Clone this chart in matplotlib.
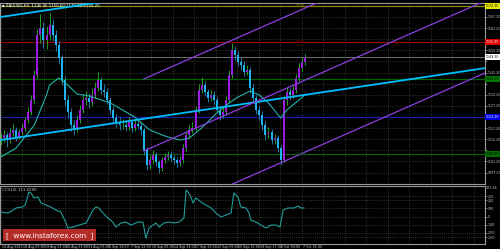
import numpy as np
import matplotlib.pyplot as plt

# H4 candles (price)
closes = [1112.75, 1114.10, 1111.85, 1115.00, 1116.35, 1113.20, 1115.45, 1117.25, 1120.85, 1124.45,
          1129.85, 1141.10, 1159.10, 1162.25, 1156.85, 1159.10, 1163.60, 1159.10, 1154.60, 1148.75,
          1138.85, 1129.85, 1124.45, 1118.60, 1117.25, 1120.85, 1125.35, 1129.85, 1130.75, 1128.95,
          1132.10, 1135.25, 1138.85, 1134.35, 1133.45, 1129.85, 1125.35, 1121.75, 1119.95, 1118.60,
          1118.60, 1117.70, 1119.95, 1117.25, 1119.05, 1118.15, 1116.35, 1107.35, 1100.60, 1102.85,
          1105.10, 1101.95, 1099.25, 1102.85, 1104.20, 1105.10, 1103.75, 1102.85, 1101.50, 1102.85,
          1108.25, 1114.10, 1116.35, 1117.25, 1125.35, 1134.35, 1136.60, 1133.45, 1130.75, 1132.10,
          1129.85, 1125.35, 1123.10, 1124.45, 1129.85, 1141.10, 1152.35, 1150.10, 1146.95, 1145.60,
          1142.45, 1143.35, 1135.25, 1130.75, 1125.35, 1123.10, 1118.60, 1114.10, 1115.45, 1111.85,
          1112.75, 1108.25, 1102.85, 1129.85, 1133.45, 1132.10, 1134.35, 1139.75, 1144.25, 1146.95,
          1149.20]
highs = [1115.0, 1116.2, 1115.3, 1117.4, 1118.9, 1117.5, 1117.0, 1119.6, 1122.4, 1126.8,
         1131.9, 1143.5, 1162.0, 1168.4, 1164.9, 1163.0, 1168.8, 1166.4, 1161.2, 1156.3,
         1150.1, 1140.5, 1132.0, 1126.1, 1121.0, 1123.3, 1127.4, 1132.6, 1134.0, 1132.8,
         1135.2, 1138.1, 1142.6, 1140.2, 1137.0, 1135.4, 1131.2, 1127.0, 1123.6, 1122.1,
         1121.2, 1120.4, 1122.3, 1121.0, 1121.1, 1120.9, 1119.7, 1117.4, 1108.6, 1105.1,
         1107.4, 1106.3, 1103.0, 1104.4, 1106.2, 1107.0, 1106.8, 1105.2, 1104.1, 1104.6,
         1110.1, 1116.0, 1118.5, 1120.0, 1127.3, 1137.1, 1140.0, 1138.2, 1135.0, 1134.3,
         1133.8, 1131.0, 1127.2, 1126.5, 1131.8, 1143.4, 1155.6, 1154.3, 1151.8, 1149.1,
         1147.2, 1145.5, 1144.6, 1136.9, 1132.1, 1127.3, 1124.7, 1120.3, 1117.6, 1117.0,
         1114.7, 1114.0, 1109.6, 1131.6, 1135.8, 1135.1, 1136.7, 1141.6, 1146.4, 1149.0,
         1150.6]
lows = [1109.5, 1111.0, 1108.9, 1110.6, 1113.8, 1111.4, 1112.1, 1114.3, 1116.0, 1119.7,
        1123.2, 1128.6, 1139.8, 1155.3, 1153.2, 1152.6, 1157.0, 1156.5, 1151.9, 1146.2,
        1136.4, 1127.3, 1121.8, 1115.9, 1114.2, 1115.6, 1119.5, 1124.1, 1127.5, 1126.4,
        1127.2, 1130.6, 1134.0, 1132.5, 1131.1, 1127.9, 1123.6, 1119.8, 1117.9, 1116.4,
        1116.9, 1115.8, 1116.2, 1115.3, 1116.0, 1116.6, 1114.2, 1105.0, 1098.3, 1099.0,
        1101.2, 1100.1, 1096.8, 1098.0, 1101.3, 1102.7, 1102.0, 1100.9, 1099.6, 1100.2,
        1101.7, 1107.0, 1112.6, 1114.8, 1116.1, 1124.0, 1132.8, 1131.6, 1128.9, 1129.2,
        1127.7, 1123.8, 1121.0, 1121.6, 1123.0, 1128.4, 1139.9, 1147.8, 1145.0, 1143.4,
        1140.6, 1140.9, 1133.1, 1128.7, 1123.4, 1121.0, 1116.2, 1112.0, 1112.6, 1109.9,
        1110.2, 1106.4, 1100.8, 1101.9, 1127.6, 1130.0, 1130.7, 1133.2, 1138.3, 1142.9,
        1145.8]

# moving average line (bar index, price)
ma_idx = [0, 5, 11, 13, 15, 16, 19, 22, 25, 29, 33, 36, 40, 44, 47, 49, 53, 56, 59, 62,
          64, 66, 68, 71, 75, 78, 82, 85, 88, 92, 94, 100]
ma_val = [1104.2, 1108.25, 1118.6, 1125.35, 1132.1, 1136.6, 1139.75, 1136.6, 1132.55, 1131.65,
          1129.85, 1128.5, 1125.35, 1122.2, 1118.6, 1116.35, 1114.1, 1112.75, 1111.85, 1112.75,
          1115.0, 1117.25, 1119.95, 1124.0, 1128.5, 1131.2, 1133.9, 1132.1, 1128.5, 1121.75,
          1125.35, 1132.1]

# CCI sub window
cci_idx = [0, 2, 3, 5, 7, 8, 9.2, 9.9, 10.9, 12.2, 13.2, 14.8, 16.4, 18.1, 19.7, 21.4, 22.0, 23.7,
           25.7, 28.0, 30.3, 31.3, 32.2, 33.6, 35.2, 36.8, 37.8, 39.5, 41.1, 42.8, 45.1, 46.7,
           47.7, 48.7, 50.0, 51.0, 52.0, 53.6, 55.3, 56.9, 58.6, 60.2, 60.9, 61.5, 62.5, 63.2,
           64.1, 65.8, 67.4, 69.1, 70.7, 72.4, 74.0, 75.7, 76.6, 78.0, 78.9, 80.6, 81.6, 82.2,
           83.9, 85.5, 87.2, 88.8, 90.5, 91.8, 92.8, 94.4, 96.4, 97.7, 98.7, 99.7]
cci_val = [55, 43, 55, 104, 116, 140, 299, 287, 226, 238, 165, 140, 116, 79, 55, -79, -140, -128,
           -104, -79, 79, 116, 104, 43, -18, -67, -128, -79, -67, -104, -67, -67,
           -262, -140, -104, -79, -128, -79, -67, -79, -67, -18, 323, 299, 238, 165,
           226, 177, 140, 104, 43, -6, 18, 43, 287, 238, 116, 104, 43, -43,
           -67, -104, -140, -104, -104, -128, 79, 104, 104, 128, 104, 104]
cci_levels = [250, 200, 100, 0, -100, -200, -250]

# drawn objects: trend lines and levels
cyan_x = [0, 160]
cyan_lo = [1111.85, 1144.35]
cyan_hi = [1167.2, 1199.7]
fork_x = [47, 160]
fork_start = [1139.3, 1106.9, 1074.5]
fork_end = [1207.3, 1174.9, 1142.5]
level_prices = [1172.15, 1155.95, 1139.30, 1122.20, 1105.50]
level_lines = ['#8c8c00', '#8b0000', '#006400', '#1c1ca0', '#0e5c0e']
level_boxes = ['#e6e600', '#e00000', '#007a00', '#0000e6', '#006b00']
level_txt = ['black', 'white', 'black', 'white', 'black']
level_tags = ['1172', '1156', '', '1122', '1105']

price_ticks = [1167.2, 1162.2, 1157.2, 1152.2, 1147.2, 1142.2, 1137.2, 1132.2, 1127.2,
               1122.2, 1117.2, 1112.2, 1107.2, 1102.2, 1097.2]
date_labels = ["14 Aug 2015", "18 Aug 05:00", "19 Aug 13:00", "26 Aug 13:00", "31 Aug 05:00",
               "1 Sep 13:00", "7 Sep 13:00", "10 Sep 05:00", "14 Sep 13:00", "17 Sep 13:00",
               "22 Sep 05:00", "25 Sep 13:00", "29 Sep 17:00", "2 Oct 09:00", "7 Oct 01:00"]
date_step = 7.07

closes = np.array(closes)
opens = np.r_[closes[0], closes[:-1]]
idx = np.arange(len(closes))
up = closes >= opens
last = closes[-1]

fig = plt.figure(figsize=(5, 2.49), dpi=100, facecolor='black')
ax = fig.add_axes([0, 0.261, 0.97, 0.727], facecolor='black')
ax2 = fig.add_axes([0, 0.020, 0.97, 0.233], facecolor='black')

xmin, xmax = -0.3, 159.2
grid_x = np.arange(0, xmax, date_step)
gkw = dict(color='#5a5a5a', lw=0.5, linestyle=(0, (1, 2)), zorder=0)
for a in (ax, ax2):
    a.set_xlim(xmin, xmax)
    for gx in grid_x:
        a.axvline(gx, **gkw)
    for s in a.spines.values():
        s.set_color('#9a9a9a')
        s.set_linewidth(0.8)
    a.set_xticks([])
    a.yaxis.tick_right()
    a.tick_params(axis='y', labelsize=2.3, colors='#c8c8c8', length=1.2, width=0.4, pad=0.6)

# main pane
ax.set_ylim(1092.05, 1173.5)
ax.set_yticks(price_ticks)
# the coloured level boxes hide the grid labels they sit on
taken = level_prices + [last]
ax.set_yticklabels(['' if min(abs(p - q) for q in taken) < 2.6 else '%.2f' % p for p in price_ticks])
for p in price_ticks:
    ax.axhline(p, **gkw)

wick_col = np.where(up, '#20c020', '#2a8fbf')
body_col = np.where(up, '#9a1ee0', '#1eb4f0')
ax.vlines(idx, lows, highs, colors=wick_col, lw=0.6, zorder=3)
ax.bar(idx, closes - opens, bottom=opens, width=0.65, color=body_col, lw=0, zorder=4)

ax.plot(ma_idx, ma_val, color='#20b2aa', lw=0.8, zorder=5)

ax.plot(cyan_x, cyan_lo, color='#00bfff', lw=1.3, zorder=6)
ax.plot(cyan_x, cyan_hi, color='#00bfff', lw=1.3, zorder=6)
for s, e in zip(fork_start, fork_end):
    ax.plot(fork_x, [s, e], color='#8a3fe0', lw=0.9, zorder=6)

ytr = ax.get_yaxis_transform()
for p, lc, bc, tc, tag in zip(level_prices, level_lines, level_boxes, level_txt, level_tags):
    ax.axhline(p, color=lc, lw=0.9, zorder=2)
    ax.text(1.002, p, '%.2f' % p, transform=ytr, fontsize=2.3, color=tc, va='center', ha='left',
            bbox=dict(boxstyle='square,pad=0.2', fc=bc, ec='none'), clip_on=False, zorder=10)
    if tag:
        ax.text(97, p, tag, fontsize=2.6, color=lc, va='center', ha='left', zorder=7)

ax.axhline(last, color='#707070', lw=0.7, zorder=2)
ax.text(1.002, last, '%.2f' % last, transform=ytr, fontsize=2.3, color='black', va='center', ha='left',
        bbox=dict(boxstyle='square,pad=0.2', fc='white', ec='none'), clip_on=False, zorder=10)

ax.text(0.004, 0.997, '\u25aa XAUUSD,H4  %.2f %.2f %.2f %.2f' % (opens[-1], highs[-1], lows[-1], last),
        transform=ax.transAxes, fontsize=2.8, color='white', va='top', ha='left')

# CCI pane
ax2.set_ylim(-335, 372)
ax2.set_yticks(cci_levels)
ax2.set_yticklabels([str(v) for v in cci_levels])
for v in cci_levels:
    ax2.axhline(v, **gkw)
ax2.plot(cci_idx, cci_val, color='#1f9e9a', lw=0.8)
ax2.text(0.004, 0.97, 'CCI(14) 111.0290', transform=ax2.transAxes, fontsize=2.8, color='#d0d0d0',
         va='top', ha='left')
ax2.text(1.002, 0.995, '372.28', transform=ax2.transAxes, fontsize=2.3, color='#c8c8c8',
         va='top', ha='left', clip_on=False)

for k, lab in enumerate(date_labels):
    ax2.text(k * date_step + 0.3, -0.025, lab, transform=ax2.get_xaxis_transform(), fontsize=2.3,
             color='#c8c8c8', va='top', ha='left', clip_on=False)

ax2.text(0.012, 0.055, '[  www.instaforex.com  ]', transform=fig.transFigure, fontsize=5.2,
         color='white', va='center', ha='left',
         bbox=dict(boxstyle='square,pad=0.35', fc='#c8322d', ec='none', alpha=0.9), zorder=20)

fig.savefig('out.png', dpi=100, facecolor='black')
